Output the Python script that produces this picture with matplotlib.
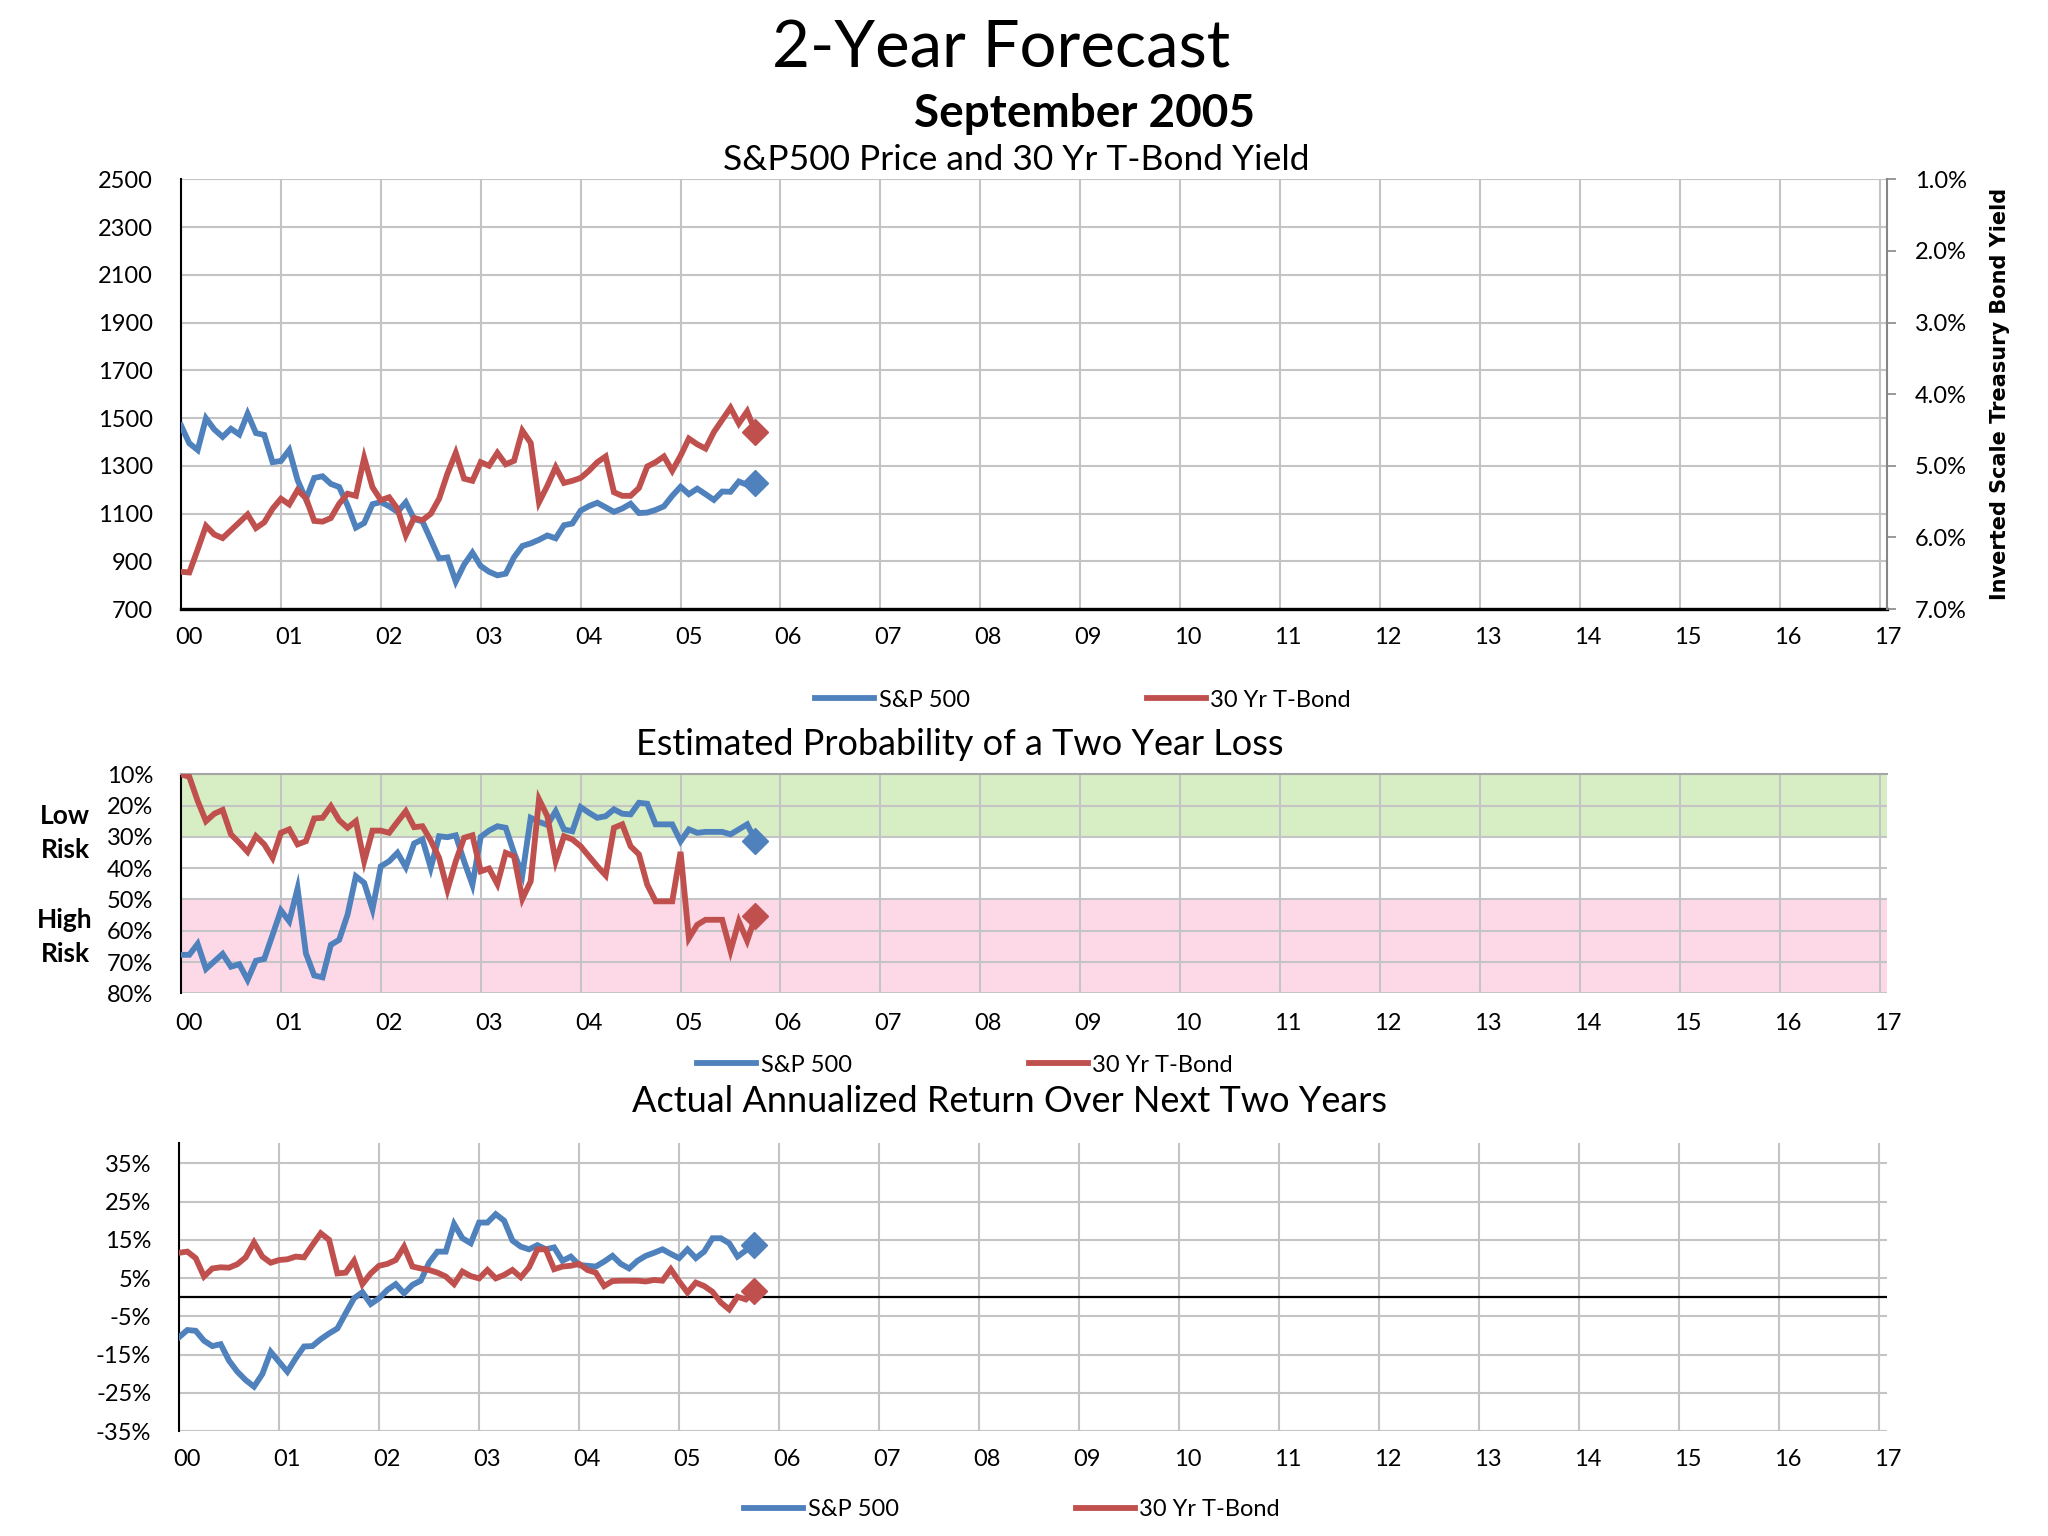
import numpy as np
import matplotlib
matplotlib.use('Agg')
import matplotlib.pyplot as plt
from matplotlib.transforms import ScaledTranslation
from matplotlib.lines import Line2D

plt.rcParams['font.family'] = ['Lato', 'DejaVu Sans']

#=======================================================================================
# Data (monthly, Dec 1999 .. Sep 2005)
#=======================================================================================

year_labels = ['00', '01', '02', '03', '04', '05', '06', '07', '08', '09',
               '10', '11', '12', '13', '14', '15', '16', '17']

sp500_price = [1469, 1394, 1366, 1499, 1452, 1421, 1455, 1431, 1518, 1437, 1429, 1315, 1320,
               1366, 1240, 1160, 1249, 1256, 1224, 1211, 1134, 1041, 1060, 1139, 1148,
               1130, 1107, 1147, 1077, 1067, 990, 912, 916, 815, 886, 936, 880,
               856, 841, 848, 917, 964, 975, 990, 1008, 996, 1051, 1058, 1112,
               1131, 1145, 1126, 1107, 1121, 1141, 1102, 1104, 1115, 1130, 1174, 1212,
               1181, 1204, 1181, 1157, 1192, 1191, 1234, 1220, 1229]

tbond_yield = [6.48, 6.49, 6.17, 5.84, 5.96, 6.01, 5.90, 5.79, 5.68, 5.87, 5.79, 5.60, 5.46,
               5.54, 5.34, 5.45, 5.77, 5.78, 5.73, 5.53, 5.39, 5.42, 4.89, 5.30, 5.48,
               5.44, 5.60, 5.97, 5.73, 5.76, 5.67, 5.46, 5.11, 4.82, 5.18, 5.21, 4.95,
               5.00, 4.82, 4.98, 4.93, 4.51, 4.68, 5.51, 5.28, 5.02, 5.24, 5.21, 5.17,
               5.07, 4.95, 4.87, 5.37, 5.42, 5.42, 5.31, 5.01, 4.95, 4.87, 5.07, 4.86,
               4.62, 4.70, 4.76, 4.53, 4.36, 4.19, 4.41, 4.24, 4.53]

sp500_prob = [67.7, 67.7, 64.2, 72.2, 69.8, 67.4, 71.5, 70.7, 75.7, 69.6, 69.0, 61.3, 53.5,
              57.0, 46.5, 67.2, 74.3, 74.9, 64.5, 62.9, 54.9, 42.6, 44.7, 53.1, 39.4,
              37.8, 35.1, 39.7, 32.1, 30.8, 39.9, 29.8, 30.1, 29.5, 37.8, 45.3, 30.0,
              28.0, 26.6, 27.1, 35.1, 42.1, 23.9, 25.2, 26.2, 21.8, 27.6, 28.2, 20.5,
              22.3, 23.9, 23.4, 21.2, 22.6, 22.8, 19.1, 19.4, 26.0, 26.0, 26.0, 31.4,
              27.6, 28.7, 28.4, 28.4, 28.4, 29.2, 27.6, 26.0, 31.2]

tbond_prob = [10.0, 10.8, 18.5, 25.0, 22.6, 21.4, 29.2, 31.9, 34.8, 29.8, 32.4, 36.7, 28.7,
              27.6, 32.4, 31.4, 24.1, 23.9, 20.2, 24.7, 27.1, 25.0, 37.8, 28.0, 28.0,
              28.7, 25.2, 21.8, 26.9, 26.6, 31.2, 36.7, 46.9, 37.8, 30.3, 29.5, 41.0,
              40.1, 45.1, 35.1, 36.2, 49.8, 44.2, 18.0, 23.4, 37.8, 29.8, 30.8, 33.0,
              36.2, 39.4, 42.3, 27.1, 26.0, 33.0, 35.6, 45.3, 50.6, 50.6, 50.6, 34.8,
              62.4, 58.1, 56.5, 56.5, 56.5, 66.4, 57.0, 63.2, 55.4]

sp500_ret = [-10.5, -8.6, -8.8, -11.4, -12.8, -12.3, -16.6, -19.5, -21.7, -23.4, -20.1, -14.3, -16.9,
             -19.5, -16.0, -12.9, -12.8, -11.0, -9.5, -8.2, -4.2, -0.3, 1.3, -1.8, -0.3,
             1.9, 3.4, 1.0, 3.2, 4.3, 9.0, 11.9, 11.9, 19.1, 15.4, 14.1, 19.5,
             19.5, 21.7, 20.0, 14.8, 13.2, 12.5, 13.6, 12.5, 13.0, 9.5, 10.6, 8.4,
             8.2, 8.0, 9.3, 10.8, 8.7, 7.5, 9.5, 10.8, 11.6, 12.5, 11.3, 10.2,
             12.5, 10.2, 11.9, 15.4, 15.4, 14.1, 10.6, 12.2, 13.6]

tbond_ret = [11.6, 11.9, 10.2, 5.4, 7.5, 7.8, 7.7, 8.6, 10.4, 14.3, 10.6, 9.0, 9.7,
             9.9, 10.6, 10.4, 13.6, 16.7, 15.0, 6.2, 6.4, 9.5, 3.4, 6.2, 8.2,
             8.7, 9.7, 13.2, 8.0, 7.5, 7.1, 6.4, 5.4, 3.4, 6.7, 5.5, 4.9,
             7.1, 4.9, 5.8, 7.1, 5.2, 7.8, 12.5, 12.5, 7.3, 8.0, 8.2, 8.7,
             7.1, 6.4, 2.9, 4.2, 4.3, 4.3, 4.3, 4.1, 4.5, 4.3, 7.3, 4.1,
             1.2, 3.8, 2.9, 1.4, -1.4, -3.2, 0.1, -0.6, 1.7]

months = np.arange(len(sp500_price)) / 12.0

#=======================================================================================
# Style
#=======================================================================================

blue = '#4F81BD'
red = '#C0504D'
grid_c = '#C4C4C4'
lw = 4.2
fs = 17
W, H = 2048.0, 1536.0

fig = plt.figure(figsize=(20.48, 15.36), dpi=100)

def fx(px): return px / W
def fy(px): return 1 - px / H

def style_x(ax, pad):
    ax.set_xlim(0, 17.075)
    ax.set_xticks(range(18))
    ax.set_xticklabels(year_labels)
    ax.tick_params(axis='x', length=0, pad=pad, labelsize=fs)
    shift = ScaledTranslation(8/100, 0, fig.dpi_scale_trans)
    for lab in ax.get_xticklabels():
        lab.set_transform(lab.get_transform() + shift)
    ax.grid(True, color=grid_c, lw=1.5)
    ax.set_axisbelow(True)

def plot_pair(ax_a, ax_b, ya, yb):
    ax_a.plot(months, ya, color=blue, lw=lw, solid_joinstyle='miter', zorder=3)
    ax_a.plot(months[-1], ya[-1], 'D', color=blue, ms=13, zorder=4)
    ax_b.plot(months, yb, color=red, lw=lw, solid_joinstyle='miter', zorder=3)
    ax_b.plot(months[-1], yb[-1], 'D', color=red, ms=13, zorder=4)

def add_legend(x, y):
    handles = [Line2D([], [], color=blue, lw=lw), Line2D([], [], color=red, lw=lw)]
    fig.legend(handles, ['S&P 500', '30 Yr T-Bond'], loc='center', bbox_to_anchor=(x, y),
               ncol=2, frameon=False, fontsize=fs, handlelength=2.5, handletextpad=0.2,
               columnspacing=7.5)

#=======================================================================================
# Titles
#=======================================================================================

fig.text(fx(1001), fy(68), '2-Year Forecast', fontsize=47, ha='center', va='baseline')
fig.text(fx(1084), fy(127), 'September 2005', fontsize=33, fontweight='bold', ha='center', va='baseline')
fig.text(fx(1016), fy(170), 'S&P500 Price and 30 Yr T-Bond Yield', fontsize=25.5, ha='center', va='baseline')
fig.text(fx(960), fy(755), 'Estimated Probability of a Two Year Loss', fontsize=26, ha='center', va='baseline')
fig.text(fx(1010), fy(1112), 'Actual Annualized Return Over Next Two Years', fontsize=26, ha='center', va='baseline')

#=======================================================================================
# Top chart: price and yield
#=======================================================================================

ax1 = fig.add_axes([fx(181), fy(609), fx(1887) - fx(181), (609 - 179.3) / H])
style_x(ax1, 13)
ax1.set_ylim(700, 2500)
ax1.set_yticks(np.arange(700, 2501, 200))
ax1.tick_params(axis='y', length=0, pad=20, labelsize=fs)
for s in ['top', 'right']:
    ax1.spines[s].set_visible(False)
ax1.spines['left'].set_color('black')
ax1.spines['left'].set_linewidth(1.5)
ax1.spines['bottom'].set_color('black')
ax1.spines['bottom'].set_linewidth(2.4)

ax2 = ax1.twinx()
ax2.set_ylim(7, 1)
ax2.set_yticks(np.arange(1, 8))
ax2.set_yticklabels([f'{v:.1f}%' for v in np.arange(1, 8)])
ax2.tick_params(axis='y', length=6.5, width=1.2, color='#868686', pad=13.5, labelsize=fs)
for s in ['top', 'left', 'bottom']:
    ax2.spines[s].set_visible(False)
ax2.spines['right'].set_color('#868686')
ax2.spines['right'].set_linewidth(1.5)

plot_pair(ax1, ax2, sp500_price, tbond_yield)

fig.text(fx(2000), fy(394), 'Inverted Scale Treasury Bond Yield', rotation=90, ha='center', va='center',
         fontsize=15, fontweight='bold', family='DejaVu Sans')

add_legend(fx(1083), fy(700))

#=======================================================================================
# Middle chart: probability of loss
#=======================================================================================

axm = fig.add_axes([fx(181), fy(993.3), fx(1887) - fx(181), (993.3 - 774.3) / H])
style_x(axm, 14)
axm.set_ylim(80, 10)
axm.set_yticks(np.arange(10, 81, 10))
axm.set_yticklabels([f'{v}%' for v in range(10, 81, 10)])
axm.tick_params(axis='y', length=0, pad=20, labelsize=fs)
axm.axhspan(10, 30, color='#D7EEC5', lw=0, zorder=0.2)
axm.axhspan(50, 80, color='#FDD9E7', lw=0, zorder=0.2)
for s in ['right', 'bottom']:
    axm.spines[s].set_visible(False)
axm.spines['top'].set_color('#A6A6A6')
axm.spines['top'].set_linewidth(1.5)
axm.spines['left'].set_color('black')
axm.spines['left'].set_linewidth(1.5)

plot_pair(axm, axm, sp500_prob, tbond_prob)

fig.text(fx(65), fy(833), 'Low\nRisk', ha='center', va='center', fontsize=19, fontweight='bold', linespacing=1.45)
fig.text(fx(65), fy(937), 'High\nRisk', ha='center', va='center', fontsize=19, fontweight='bold', linespacing=1.45)

add_legend(fx(965), fy(1065))

#=======================================================================================
# Bottom chart: actual returns
#=======================================================================================

axb = fig.add_axes([fx(179), fy(1431), fx(1887) - fx(179), (1431 - 1143) / H])
style_x(axb, 13)
axb.set_ylim(-35, 40.3)
axb.set_yticks(np.arange(-35, 36, 10))
axb.set_yticklabels([f'{v}%' for v in range(-35, 36, 10)])
axb.tick_params(axis='y', length=0, pad=20, labelsize=fs)
for s in ['top', 'right', 'bottom']:
    axb.spines[s].set_visible(False)
axb.spines['left'].set_color('black')
axb.spines['left'].set_linewidth(1.5)
axb.axhline(0, color='black', lw=1.6, zorder=1)

plot_pair(axb, axb, sp500_ret, tbond_ret)

add_legend(fx(1012), fy(1510))

plt.savefig('out.png', dpi=100)
plt.close()
